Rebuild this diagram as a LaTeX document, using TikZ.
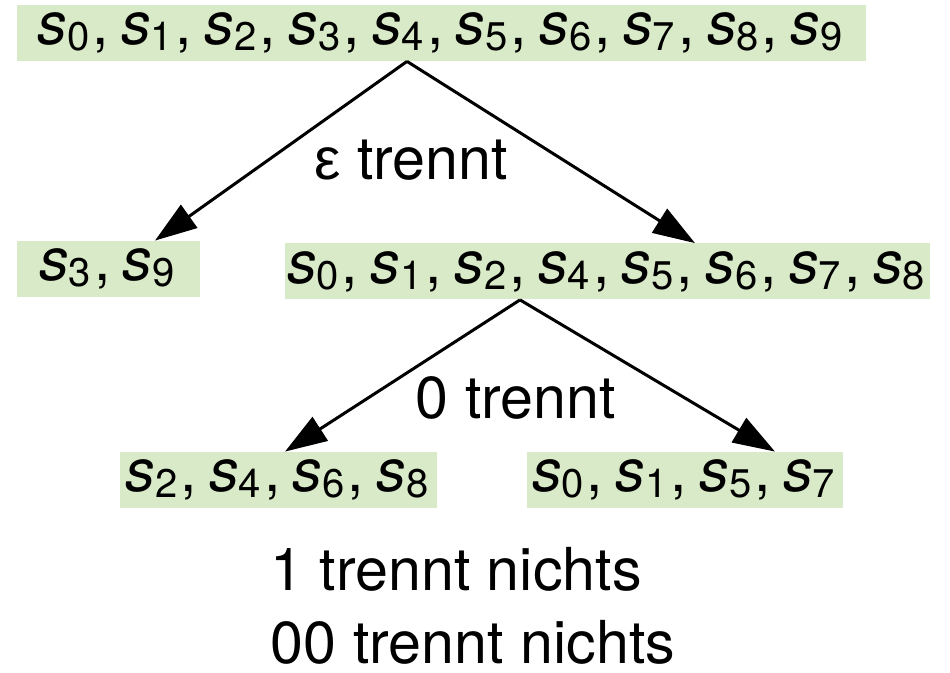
\documentclass[tikz,border=0pt]{standalone}
\usepackage{fontspec}
\setmainfont{TeX Gyre Heros}
\newfontfamily\grk{Liberation Sans}
\usepackage{tikz}
\usetikzlibrary{arrows.meta,positioning}
\definecolor{setbg}{RGB}{217,234,200}
\newcommand{\sx}[1]{\textit{s}\raisebox{-3pt}{\fontsize{20}{24}\selectfont #1}\kern1.5pt}

\begin{document}
\begin{tikzpicture}[x=0.5pt,y=-0.5pt,font=\fontsize{29.6}{35}\selectfont,
  sb/.style={fill=setbg,inner sep=0pt,minimum height=28pt,
    execute at begin node={\spaceskip=6.2pt\relax}},
  arr/.style={-{Triangle[length=21pt,width=14pt]},line width=1.5pt},
  lbl/.style={anchor=base,inner sep=0pt}]
  \useasboundingbox (0,0) rectangle (950,673);
  % the sets
  \node[sb,minimum width=424.5pt] (all) at (441.5,33)
    {\sx{0}, \sx{1}, \sx{2}, \sx{3}, \sx{4}, \sx{5}, \sx{6}, \sx{7}, \sx{8}, \sx{9}};
  \node[sb,minimum width=91.5pt] (eps) at (108.5,269) {\sx{3}, \sx{9}\hspace{10pt}};
  \node[sb,minimum width=322.5pt] (rest) at (607.5,271.5)
    {\sx{0}, \sx{1}, \sx{2}, \sx{4}, \sx{5}, \sx{6}, \sx{7}, \sx{8}};
  \node[sb,minimum width=158.5pt] (even) at (278.5,480) {\sx{2}, \sx{4}, \sx{6}, \sx{8}};
  \node[sb,minimum width=158pt] (odd) at (685,480) {\sx{0}, \sx{1}, \sx{5}, \sx{7}};
  % splits
  \draw[arr] ([xshift=-17.25pt]all.south) -- ([xshift=23.25pt]eps.north);
  \draw[arr] ([xshift=-17.25pt]all.south) -- ([xshift=43.75pt]rest.north);
  \draw[arr] ([xshift=-43.75pt]rest.south) -- ([xshift=3.25pt]even.north);
  \draw[arr] ([xshift=-43.75pt]rest.south) -- ([xshift=45pt]odd.north);
  % labels
  \node[lbl] (l1) at (411,180) {{\grk ε} trennt};
  \node[lbl] (l2) at (516,419) {0 trennt};
  \node[lbl] (l3) at (456,591) {1 trennt nichts};
  \node[lbl] (l4) at (473,664) {00 trennt nichts};
\end{tikzpicture}
\end{document}
